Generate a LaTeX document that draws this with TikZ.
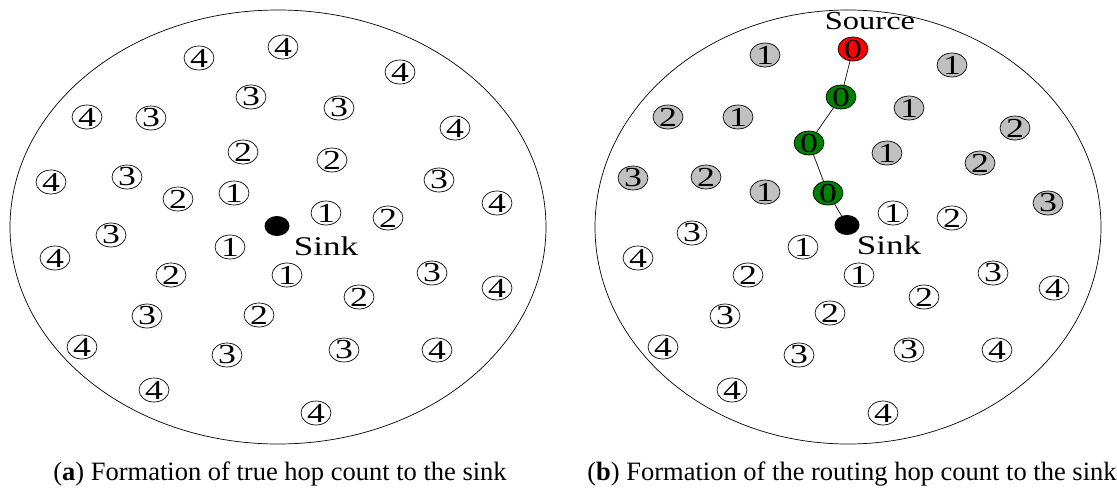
\documentclass[tikz,border=0pt]{standalone}
\usepackage{fontspec}
\setmainfont{Liberation Serif}
\usetikzlibrary{shapes.geometric}
\definecolor{pathgreen}{RGB}{0,128,0}
\definecolor{hopgray}{RGB}{192,192,192}
\definecolor{srcred}{RGB}{255,0,0}
\newcommand{\hcnum}[1]{\scalebox{1.3}[1]{#1}}
\newcommand{\lbltxt}[1]{\scalebox{1.25}[1]{#1}}
\newcommand{\sinktxt}[1]{\scalebox{1.3}[1]{#1}}
\tikzset{
  hop/.style={ellipse,draw,line width=0.7pt,minimum width=30pt,minimum height=24pt,
    inner xsep=-1pt,inner ysep=-3pt,font=\fontsize{27.5}{27.5}\selectfont},
  grayhop/.style={hop,fill=hopgray},
  greenhop/.style={hop,fill=pathgreen},
  redhop/.style={hop,fill=srcred},
  sinkdot/.style={ellipse,fill=black,minimum width=25pt,minimum height=20pt,inner sep=0pt},
  field/.style={line width=0.7pt},
  lbl/.style={font=\fontsize{26}{26}\selectfont,inner sep=0pt},
  sinklbl/.style={font=\fontsize{27}{27}\selectfont,inner sep=0pt},
  captext/.style={font=\fontsize{26.5}{26.5}\selectfont,inner sep=0pt,anchor=base},
  route/.style={line width=0.7pt}
}
\begin{document}
\begin{tikzpicture}[x=1pt,y=-1pt]
\useasboundingbox (0,0) rectangle (1117,488);
% ---------- panel (a) ----------
\draw[field] (278,227) ellipse [x radius=268pt, y radius=217pt];
\node[hop] (a1) at (199,58) {\hcnum{4}};
\node[hop] (a2) at (283,47) {\hcnum{4}};
\node[hop] (a3) at (400,72) {\hcnum{4}};
\node[hop] (a4) at (87,117) {\hcnum{4}};
\node[hop] (a5) at (151,118) {\hcnum{3}};
\node[hop] (a6) at (251,97) {\hcnum{3}};
\node[hop] (a7) at (339,108) {\hcnum{3}};
\node[hop] (a8) at (455,128) {\hcnum{4}};
\node[hop] (a9) at (243,152) {\hcnum{2}};
\node[hop] (a10) at (332,160) {\hcnum{2}};
\node[hop] (a11) at (51,182) {\hcnum{4}};
\node[hop] (a12) at (127,177) {\hcnum{3}};
\node[hop] (a13) at (178,199) {\hcnum{2}};
\node[hop] (a14) at (234,193) {\hcnum{1}};
\node[hop] (a15) at (439,180) {\hcnum{3}};
\node[hop] (a16) at (497,203) {\hcnum{4}};
\node[hop] (a17) at (326,213) {\hcnum{1}};
\node[hop] (a18) at (388,218) {\hcnum{2}};
\node[hop] (a19) at (111,235) {\hcnum{3}};
\node[hop] (a20) at (55,258) {\hcnum{4}};
\node[hop] (a21) at (230,247) {\hcnum{1}};
\node[hop] (a22) at (171,275) {\hcnum{2}};
\node[hop] (a23) at (287,275) {\hcnum{1}};
\node[hop] (a24) at (432,273) {\hcnum{3}};
\node[hop] (a25) at (497,288) {\hcnum{4}};
\node[hop] (a26) at (359,297) {\hcnum{2}};
\node[hop] (a27) at (147,316) {\hcnum{3}};
\node[hop] (a28) at (259,315) {\hcnum{2}};
\node[hop] (a29) at (82,347) {\hcnum{4}};
\node[hop] (a30) at (227,355) {\hcnum{3}};
\node[hop] (a31) at (344,350) {\hcnum{3}};
\node[hop] (a32) at (437,350) {\hcnum{4}};
\node[hop] (a33) at (154,390) {\hcnum{4}};
\node[hop] (a34) at (316,413) {\hcnum{4}};
\node[sinkdot] (asink) at (277,226) {};
\node[sinklbl] (asinklbl) at (326,246) {\sinktxt{Sink}};
\node[captext] (capa) at (280,480) {(\textbf{a}) Formation of true hop count to the sink};
% ---------- panel (b) ----------
\draw[field] (848,227) ellipse [x radius=253pt, y radius=217pt];
\node[grayhop] (b1) at (765,55) {\hcnum{1}};
\node[grayhop] (b2) at (952,65) {\hcnum{1}};
\node[grayhop] (b3) at (909,108) {\hcnum{1}};
\node[grayhop] (b4) at (738,117) {\hcnum{1}};
\node[grayhop] (b5) at (668,117) {\hcnum{2}};
\node[grayhop] (b6) at (1015,128) {\hcnum{2}};
\node[grayhop] (b7) at (887,153) {\hcnum{1}};
\node[grayhop] (b8) at (980,163) {\hcnum{2}};
\node[grayhop] (b9) at (633,178) {\hcnum{3}};
\node[grayhop] (b10) at (706,177) {\hcnum{2}};
\node[grayhop] (b11) at (765,192) {\hcnum{1}};
\node[grayhop] (b12) at (1048,203) {\hcnum{3}};
\node[redhop] (src) at (853,49) {\hcnum{0}};
\node[greenhop] (g1) at (841,97) {\hcnum{0}};
\node[greenhop] (g2) at (809,143) {\hcnum{0}};
\node[greenhop] (g3) at (828,193) {\hcnum{0}};
\node[sinkdot] (bsink) at (847,225) {};
\node[hop] (b13) at (893,213) {\hcnum{1}};
\node[hop] (b14) at (952,218) {\hcnum{2}};
\node[hop] (b15) at (692,233) {\hcnum{3}};
\node[hop] (b16) at (638,258) {\hcnum{4}};
\node[hop] (b17) at (803,247) {\hcnum{1}};
\node[hop] (b18) at (748,275) {\hcnum{2}};
\node[hop] (b19) at (859,275) {\hcnum{1}};
\node[hop] (b20) at (993,273) {\hcnum{3}};
\node[hop] (b21) at (1054,288) {\hcnum{4}};
\node[hop] (b22) at (924,297) {\hcnum{2}};
\node[hop] (b23) at (725,316) {\hcnum{3}};
\node[hop] (b24) at (830,313) {\hcnum{2}};
\node[hop] (b25) at (663,347) {\hcnum{4}};
\node[hop] (b26) at (799,355) {\hcnum{3}};
\node[hop] (b27) at (909,350) {\hcnum{3}};
\node[hop] (b28) at (997,350) {\hcnum{4}};
\node[hop] (b29) at (732,390) {\hcnum{4}};
\node[hop] (b30) at (883,413) {\hcnum{4}};
\draw[route] (src) -- (g1) -- (g2) -- (g3) -- (bsink);
\node[lbl] (srclbl) at (870,21) {\lbltxt{Source}};
\node[sinklbl] (bsinklbl) at (889,245) {\sinktxt{Sink}};
\node[captext] (capb) at (852,480) {(\textbf{b}) Formation of the routing hop count to the sink};
\end{tikzpicture}
\end{document}
